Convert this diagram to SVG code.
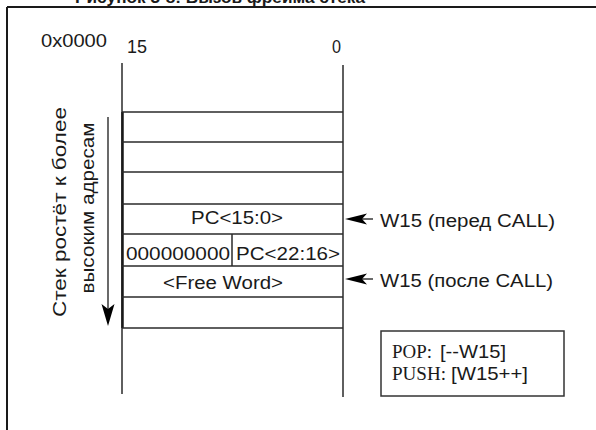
<svg xmlns="http://www.w3.org/2000/svg" width="596" height="430" viewBox="0 0 596 430">
<style>
.t{font-family:"Liberation Sans",Arial,sans-serif;font-size:18px;fill:#1a1a1a}
.s{font-family:"Liberation Serif","Times New Roman",serif;font-size:19px;fill:#1a1a1a}
.ln{stroke:#2a2a2a;stroke-width:1.5;fill:none}
.bold{stroke:#1a1a1a;stroke-width:2.5;fill:none}
</style>
<rect width="596" height="430" fill="#fff"/>
<text x="75" y="3" font-family="Liberation Sans,Arial,sans-serif" font-weight="bold" font-size="17" textLength="290" lengthAdjust="spacingAndGlyphs" fill="#1a1a1a">Рисунок 3-8: Вызов фрейма стека</text>
<g id="frame">
<line x1="7" y1="7" x2="596" y2="7" stroke="#1a1a1a" stroke-width="2"/>
<line x1="7" y1="7" x2="7" y2="430" stroke="#1a1a1a" stroke-width="2"/>
</g>
<g id="header">
<text class="t" x="41" y="47" textLength="66" lengthAdjust="spacingAndGlyphs">0x0000</text>
<text class="t" x="127" y="53" textLength="20" lengthAdjust="spacingAndGlyphs">15</text>
<text class="t" x="332" y="53" textLength="9" lengthAdjust="spacingAndGlyphs">0</text>
</g>
<g id="stack">
<line class="ln" x1="122" y1="63" x2="122" y2="394"/>
<line class="bold" x1="122.5" y1="112" x2="122.5" y2="328"/>
<line class="ln" x1="343" y1="65" x2="343" y2="397"/>
<line class="ln" x1="122" y1="112" x2="343" y2="112"/>
<line class="ln" x1="122" y1="142" x2="343" y2="142"/>
<line class="ln" x1="122" y1="172" x2="343" y2="172" stroke-width="2"/>
<line class="ln" x1="122" y1="204" x2="343" y2="204"/>
<line class="ln" x1="122" y1="234" x2="343" y2="234"/>
<line class="ln" x1="122" y1="266" x2="343" y2="266" stroke-width="2.2"/>
<line class="ln" x1="122" y1="297" x2="343" y2="297"/>
<line class="ln" x1="122" y1="328" x2="343" y2="328"/>
<line class="ln" x1="232" y1="234" x2="232" y2="266"/>
</g>
<g id="cell-pc-low">
<text class="t" x="191" y="224" textLength="92" lengthAdjust="spacingAndGlyphs">PC&lt;15:0&gt;</text>
</g>
<g id="cell-pc-high">
<text class="t" x="126" y="260" textLength="104" lengthAdjust="spacingAndGlyphs">000000000</text>
<text class="t" x="236" y="260" textLength="104" lengthAdjust="spacingAndGlyphs">PC&lt;22:16&gt;</text>
</g>
<g id="cell-free">
<text class="t" x="163" y="289" textLength="120" lengthAdjust="spacingAndGlyphs">&lt;Free Word&gt;</text>
</g>
<g id="growth-label">
<text class="t" transform="translate(66,212) rotate(-90)" text-anchor="middle" textLength="210" lengthAdjust="spacingAndGlyphs">Стек ростёт к более</text>
<text class="t" transform="translate(94,208) rotate(-90)" text-anchor="middle" textLength="171" lengthAdjust="spacingAndGlyphs">высоким адресам</text>
</g>
<g id="connectors">
<line x1="108" y1="117" x2="108" y2="310" stroke="#1a1a1a" stroke-width="1.3"/>
<path d="M108,326 L101.5,304 L108,309 L114.5,304 Z" fill="#000"/>
<line x1="350" y1="219" x2="373" y2="219" stroke="#1a1a1a" stroke-width="1.3"/>
<path d="M345,219 L367,213.5 L362,219 L367,224.5 Z" fill="#000"/>
<line x1="350" y1="279" x2="373" y2="279" stroke="#1a1a1a" stroke-width="1.3"/>
<path d="M345,279 L367,273.5 L362,279 L367,284.5 Z" fill="#000"/>
</g>
<g id="w15-before">
<text class="t" x="380" y="227" textLength="175" lengthAdjust="spacingAndGlyphs">W15 (перед CALL)</text>
</g>
<g id="w15-after">
<text class="t" x="380" y="287" textLength="173" lengthAdjust="spacingAndGlyphs">W15 (после CALL)</text>
</g>
<g id="legend">
<rect x="381" y="331" width="183" height="65" fill="#fff" stroke="#333" stroke-width="1.5"/>
<text class="s" x="392" y="358" textLength="40" lengthAdjust="spacingAndGlyphs">POP:</text>
<text class="t" x="440" y="358" textLength="66" lengthAdjust="spacingAndGlyphs">[--W15]</text>
<text class="s" x="392" y="380" textLength="54" lengthAdjust="spacingAndGlyphs">PUSH:</text>
<text class="t" x="451" y="380" textLength="77" lengthAdjust="spacingAndGlyphs">[W15++]</text>
</g>
</svg>
